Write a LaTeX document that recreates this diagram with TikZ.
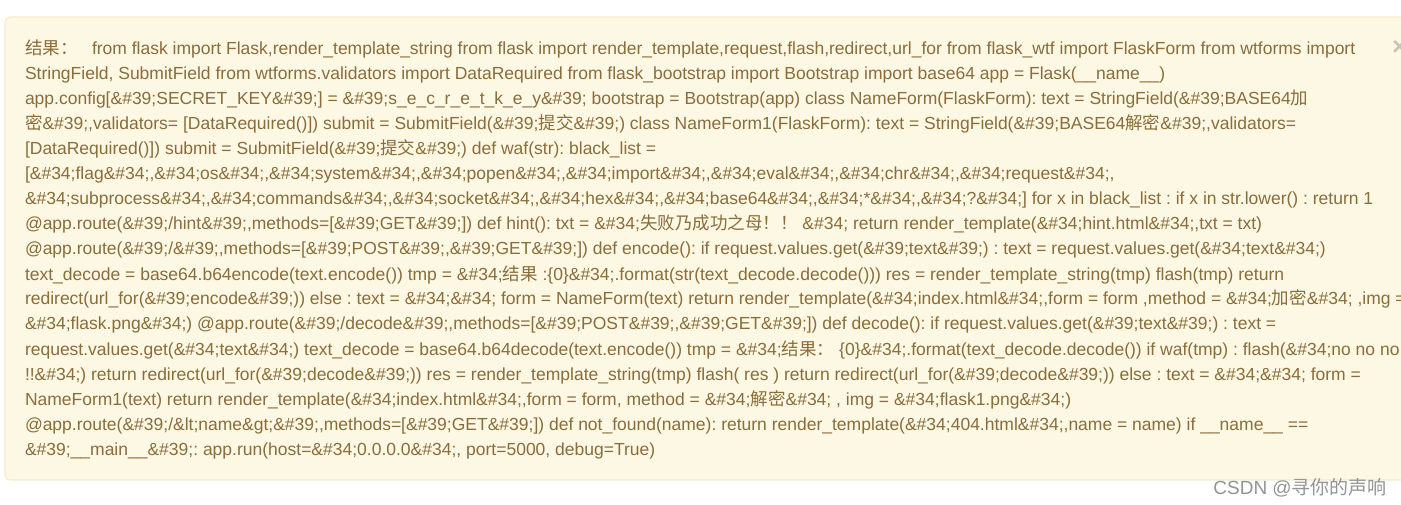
\documentclass[tikz,border=0pt]{standalone}
\usepackage{fontspec}
\setmainfont{Liberation Sans}[Ligatures=NoCommon]
\newfontfamily\cjk{Noto Sans CJK SC}
\frenchspacing
\definecolor{boxbg}{HTML}{FCF8E3}
\definecolor{boxline}{HTML}{FAEBCC}
\definecolor{txt}{HTML}{8A6D3B}
\definecolor{closex}{HTML}{CAC6B6}
\definecolor{wm}{HTML}{949494}
\tikzset{codeline/.style={anchor=base west, inner sep=0pt, outer sep=0pt, text=txt, font=\fontsize{17.5}{25}\selectfont}}
\begin{document}
\begin{tikzpicture}[x=1pt,y=-1pt]
\useasboundingbox (0,0) rectangle (1401,505);
\fill[white] (0,0) rectangle (1401,505);
\draw[fill=boxbg, draw=boxline, line width=1.2pt, rounded corners=5pt] (5,17) rectangle (1430,480);
\node[anchor=west, inner sep=0pt, text=closex, font=\bfseries\fontsize{26}{26}\selectfont] (close) at (1392,48) {×};
\node[codeline] (l1) at (25,55) {\makebox[67pt][l]{\cjk 结果：}from flask import Flask,render\_template\_string from flask import render\_template,request,flash,redirect,url\_for from flask\_wtf import FlaskForm from wtforms import};
\node[codeline] (l2) at (25,80) {StringField, SubmitField from wtforms.validators import DataRequired from flask\_bootstrap import Bootstrap import base64 app = Flask(\_\_name\_\_)};
\node[codeline] (l3) at (25,105) {app.config[\&\#39;SECRET\_KEY\&\#39;] = \&\#39;s\_e\_c\_r\_e\_t\_k\_e\_y\&\#39; bootstrap = Bootstrap(app) class NameForm(FlaskForm): text = StringField(\&\#39;BASE64{\cjk 加}};
\node[codeline] (l4) at (25,130) {{\cjk 密}\&\#39;,validators= [DataRequired()]) submit = SubmitField(\&\#39;{\cjk 提交}\&\#39;) class NameForm1(FlaskForm): text = StringField(\&\#39;BASE64{\cjk 解密}\&\#39;,validators=};
\node[codeline] (l5) at (25,155) {[DataRequired()]) submit = SubmitField(\&\#39;{\cjk 提交}\&\#39;) def waf(str): black\_list =};
\node[codeline] (l6) at (25,180) {[\&\#34;flag\&\#34;,\&\#34;os\&\#34;,\&\#34;system\&\#34;,\&\#34;popen\&\#34;,\&\#34;import\&\#34;,\&\#34;eval\&\#34;,\&\#34;chr\&\#34;,\&\#34;request\&\#34;,};
\node[codeline] (l7) at (25,205) {\&\#34;subprocess\&\#34;,\&\#34;commands\&\#34;,\&\#34;socket\&\#34;,\&\#34;hex\&\#34;,\&\#34;base64\&\#34;,\&\#34;*\&\#34;,\&\#34;?\&\#34;] for x in black\_list : if x in str.lower() : return 1};
\node[codeline] (l8) at (25,230) {@app.route(\&\#39;/hint\&\#39;,methods=[\&\#39;GET\&\#39;]) def hint(): txt = \&\#34;{\cjk 失败乃成功之母！！} \&\#34; return render\_template(\&\#34;hint.html\&\#34;,txt = txt)};
\node[codeline] (l9) at (25,255) {@app.route(\&\#39;/\&\#39;,methods=[\&\#39;POST\&\#39;,\&\#39;GET\&\#39;]) def encode(): if request.values.get(\&\#39;text\&\#39;) : text = request.values.get(\&\#34;text\&\#34;)};
\node[codeline] (l10) at (25,280) {text\_decode = base64.b64encode(text.encode()) tmp = \&\#34;{\cjk 结果} :\{0\}\&\#34;.format(str(text\_decode.decode())) res = render\_template\_string(tmp) flash(tmp) return};
\node[codeline] (l11) at (25,305) {redirect(url\_for(\&\#39;encode\&\#39;)) else : text = \&\#34;\&\#34; form = NameForm(text) return render\_template(\&\#34;index.html\&\#34;,form = form ,method = \&\#34;{\cjk 加密}\&\#34; ,img =};
\node[codeline] (l12) at (25,330) {\&\#34;flask.png\&\#34;) @app.route(\&\#39;/decode\&\#39;,methods=[\&\#39;POST\&\#39;,\&\#39;GET\&\#39;]) def decode(): if request.values.get(\&\#39;text\&\#39;) : text =};
\node[codeline] (l13) at (25,355) {request.values.get(\&\#34;text\&\#34;) text\_decode = base64.b64decode(text.encode()) tmp = \&\#34;{\cjk 结果：} \{0\}\&\#34;.format(text\_decode.decode()) if waf(tmp) : flash(\&\#34;no no no};
\node[codeline] (l14) at (25,380) {!!\&\#34;) return redirect(url\_for(\&\#39;decode\&\#39;)) res = render\_template\_string(tmp) flash( res ) return redirect(url\_for(\&\#39;decode\&\#39;)) else : text = \&\#34;\&\#34; form =};
\node[codeline] (l15) at (25,405) {NameForm1(text) return render\_template(\&\#34;index.html\&\#34;,form = form, method = \&\#34;{\cjk 解密}\&\#34; , img = \&\#34;flask1.png\&\#34;)};
\node[codeline] (l16) at (25,430) {@app.route(\&\#39;/\&lt;name\&gt;\&\#39;,methods=[\&\#39;GET\&\#39;]) def not\_found(name): return render\_template(\&\#34;404.html\&\#34;,name = name) if \_\_name\_\_ ==};
\node[codeline] (l17) at (25,455) {\&\#39;\_\_main\_\_\&\#39;: app.run(host=\&\#34;0.0.0.0\&\#34;, port=5000, debug=True)};
\node[anchor=east, inner sep=0pt, text=wm, font=\fontsize{19}{19}\selectfont] (wmk) at (1387,488) {CSDN @{\cjk 寻你的声响}};
\end{tikzpicture}
\end{document}
